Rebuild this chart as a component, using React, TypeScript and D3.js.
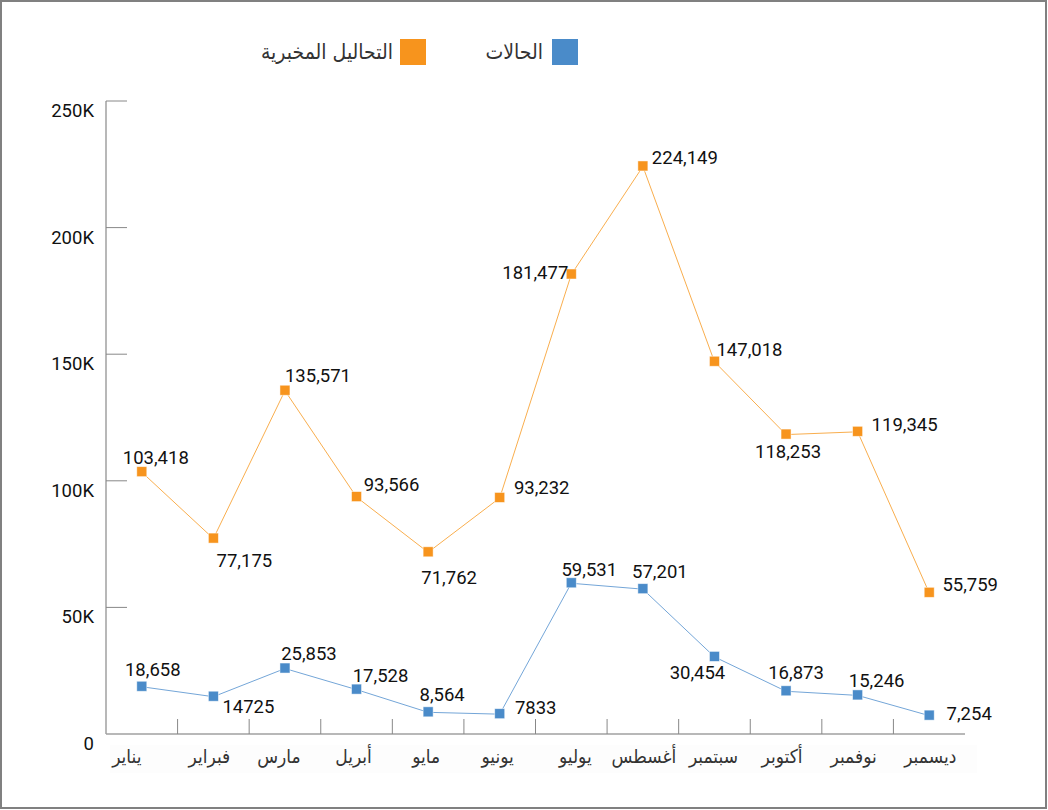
import React from "react";
import * as d3 from "d3";

const months = ["يناير", "فبراير", "مارس", "أبريل", "مايو", "يونيو", "يوليو", "أغسطس", "سبتمبر", "أكتوبر", "نوفمبر", "ديسمبر"];
const testsValues = [103418, 77175, 135571, 93566, 71762, 93232, 181477, 224149, 147018, 118253, 119345, 55759];
const testsLabels = ["103,418", "77,175", "135,571", "93,566", "71,762", "93,232", "181,477", "224,149", "147,018", "118,253", "119,345", "55,759"];
const casesValues = [18658, 14725, 25853, 17528, 8564, 7833, 59531, 57201, 30454, 16873, 15246, 7254];
const casesLabels = ["18,658", "14725", "25,853", "17,528", "8,564", "7833", "59,531", "57,201", "30,454", "16,873", "15,246", "7,254"];
const yTicks = [0, 50000, 100000, 150000, 200000, 250000];
const yTickLabels = ["0", "50K", "100K", "150K", "200K", "250K"];
const seriesNames = ["الحالات", "التحاليل المخبرية"];

// label placement offsets (layout)
const testsOffsets: [number, number][] = [
  [14, -14], [31, 22], [33, -15], [35, -12], [21, 26], [42, -10],
  [-36, -2], [42, -8], [35, -12], [2, 17], [47, -7], [41, -8],
];
const casesOffsets: [number, number][] = [
  [11, -17], [35, 10], [24, -15], [24, -14], [14, -17], [36, -6],
  [18, -13], [17, -17], [-17, 16], [10, -18], [19, -14], [40, -2],
];
const monthLabelShift = [-15, -4, -6, -3, -2, -2, 4, 1, -1, -4, -4, 1];

const ORANGE = "#F7941D";
const BLUE = "#4A8BC9";
const FONT = "Roboto, 'DejaVu Sans', sans-serif";
const AFONT = "'DejaVu Sans Condensed', 'DejaVu Sans', sans-serif";

export default function App() {
  const W = 1048, H = 810;
  const x = d3.scaleBand<string>().domain(months).range([106, 965]).padding(0);
  const y = d3.scaleLinear().domain([0, 250000]).range([734, 101]);
  const cx = (m: string) => (x(m) as number) + x.bandwidth() / 2;

  const line = d3.line<number>().x((_, i) => cx(months[i])).y((d) => y(d));

  const series = [
    { values: testsValues, labels: testsLabels, offsets: testsOffsets, color: ORANGE, lineColor: "#F9AE4E" },
    { values: casesValues, labels: casesLabels, offsets: casesOffsets, color: BLUE, lineColor: "#74A6D8" },
  ];

  return (
    <svg width={W} height={H} style={{ position: "absolute", left: 0, top: 0, background: "#fff" }}>
      <rect x={1} y={1} width={1045} height={807} fill="#fff" stroke="#808080" strokeWidth={2} />

      {/* legend */}
      <rect x={552} y={39} width={26} height={26} fill={BLUE} />
      <text x={543} y={52} textAnchor="end" dominantBaseline="central" fontFamily={AFONT} fontSize={21} fill="#333">{seriesNames[0]}</text>
      <rect x={400} y={39} width={26} height={26} fill={ORANGE} />
      <text x={393} y={52} textAnchor="end" dominantBaseline="central" fontFamily={AFONT} fontSize={21} fill="#333">{seriesNames[1]}</text>

      {/* y axis */}
      <line x1={106} x2={106} y1={101} y2={734} stroke="#a0a0a0" strokeWidth={1.5} />
      {yTicks.map((t, i) => (
        <g key={t}>
          {t > 0 && <line x1={106} x2={127} y1={y(t)} y2={y(t)} stroke="#888" strokeWidth={1} />}
          <text x={94} y={y(t) + 10} textAnchor="end" dominantBaseline="central" fontFamily={FONT} fontSize={18.5} fill="#111">{yTickLabels[i]}</text>
        </g>
      ))}

      {/* x axis */}
      <rect x={110} y={745} width={867} height={28} fill="#fdfdfd" />
      <line x1={106} x2={965} y1={734} y2={734} stroke="#a0a0a0" strokeWidth={1.5} />
      {months.map((m, i) => (
        <g key={m}>
          {i > 0 && <line x1={x(m)} x2={x(m)} y1={719} y2={734} stroke="#888" strokeWidth={1} />}
          <text x={cx(m) + monthLabelShift[i]} y={756} textAnchor="middle" dominantBaseline="central" fontFamily={AFONT} fontSize={19} fill="#333">{m}</text>
        </g>
      ))}

      {/* series */}
      {series.map((s, si) => (
        <g key={si}>
          <path d={line(s.values) as string} fill="none" stroke={s.lineColor} strokeWidth={1} />
          {s.values.map((v, i) => (
            <rect key={i} x={cx(months[i]) - 5} y={y(v) - 5.5} width={10} height={10} fill={s.color} stroke="#fff" strokeWidth={0.8} strokeOpacity={0.6} />
          ))}
          {s.values.map((v, i) => (
            <text key={"t" + i} x={cx(months[i]) + s.offsets[i][0]} y={y(v) + s.offsets[i][1]} textAnchor="middle" dominantBaseline="central" fontFamily={FONT} fontSize={18.5} fill="#111">{s.labels[i]}</text>
          ))}
        </g>
      ))}
    </svg>
  );
}
